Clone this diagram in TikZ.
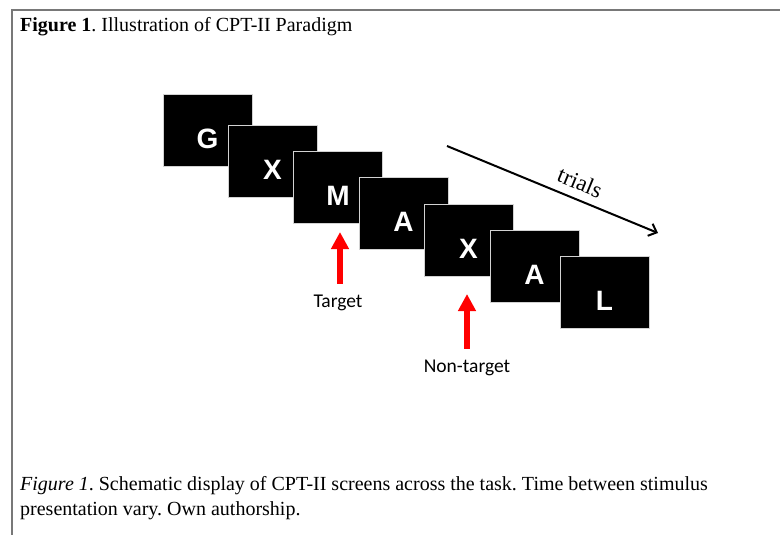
\documentclass[tikz,border=0pt]{standalone}
\usepackage{fontspec}
\setmainfont{Liberation Serif}
\newfontfamily\arialfont{Liberation Sans}
\newfontfamily\calfont{Carlito}
\newfontfamily\timesfont{Liberation Serif}
\usetikzlibrary{arrows.meta}
\definecolor{framegray}{RGB}{120,120,120}
\frenchspacing
\begin{document}
\begin{tikzpicture}[x=1pt, y=-1pt, every node/.style={inner sep=0pt},
  scr/.style={draw=gray!35,line width=0.8pt,fill=black,text=white,minimum width=89pt,minimum height=72pt,
    font=\arialfont\bfseries\fontsize{28}{30}\selectfont,text height=36pt,text depth=0pt},
  cue/.style={red,line width=6pt,-{Triangle[width=17pt,length=17pt]}},
  lab/.style={font=\calfont\fontsize{19.5}{22}\selectfont}]
\useasboundingbox (0,0) rectangle (780,535);
\draw[framegray,line width=1.2pt] (780,10) -- (12,10) -- (12,535);
\node[anchor=west,font=\fontsize{20}{22}\selectfont] (title) at (20,27) {\textbf{Figure 1}. Illustration of CPT-II Paradigm};
% screens
\node[scr] (s1) at (207.5,130) {G};
\node[scr] (s2) at (272.5,161) {X};
\node[scr] (s3) at (338,187.5) {M};
\node[scr] (s4) at (403.5,213) {A};
\node[scr] (s5) at (468.5,240) {X};
\node[scr] (s6) at (534.5,266) {A};
\node[scr] (s7) at (604.5,292) {L};
% cues
\node[lab] (tgt) at (338,303) {Target};
\node[lab] (ntgt) at (467,368) {Non-target};
\coordinate (tgttip) at (340,232);
\coordinate (ntgttip) at (467,294);
\draw[cue,shorten <=11pt] (tgt.north -| tgttip) -- (tgttip);
\draw[cue,shorten <=11pt] (ntgt.north -| ntgttip) -- (ntgttip);
% time axis
\coordinate (tstart) at (447,146);
\coordinate (tend) at (658,233);
\draw[line width=2pt,-{Straight Barb[length=7pt,width=13pt]}] (tstart) -- (tend)
  node[pos=0.6,sloped,above=8pt,font=\timesfont\fontsize{23}{25}\selectfont] (trl) {trials};
\node[anchor=north west,align=left,font=\fontsize{20}{25}\selectfont] (cap) at (20,476)
  {\textit{Figure 1}. Schematic display of CPT-II screens across the task. Time between stimulus\\presentation vary. Own authorship.};
\end{tikzpicture}
\end{document}
